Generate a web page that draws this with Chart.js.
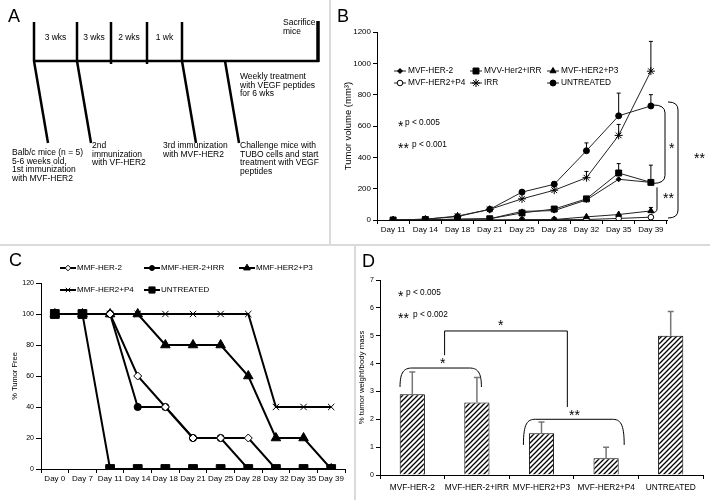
<!DOCTYPE html>
<html>
<head>
<meta charset="utf-8">
<script src="https://cdn.jsdelivr.net/npm/chart.js@4/dist/chart.umd.min.js"></script>
<style>
  body { margin: 0; background: #fff; }
  #wrap { position: relative; width: 710px; height: 500px; overflow: hidden; background: #fff; }
  .box { position: absolute; }
  .rule { position: absolute; background: #dadada; }
</style>
</head>
<body>
<div id="wrap">
  <div class="box" style="left:0;top:0;width:329px;height:244px"><canvas id="chartA" width="329" height="244"></canvas></div>
  <div class="box" style="left:331px;top:0;width:379px;height:244px"><canvas id="chartB" width="379" height="244"></canvas></div>
  <div class="box" style="left:0;top:246px;width:354px;height:254px"><canvas id="chartC" width="354" height="254"></canvas></div>
  <div class="box" style="left:357px;top:246px;width:353px;height:254px"><canvas id="chartD" width="353" height="254"></canvas></div>
  <div class="rule" style="left:329px;top:0;width:2px;height:244px"></div>
  <div class="rule" style="left:0;top:244px;width:710px;height:2px"></div>
  <div class="rule" style="left:354px;top:246px;width:2px;height:254px"></div>
</div>
<script>
// ---- Panel A: schedule (sketch units) ----
const intervalLabels = ['3 wks', '3 wks', '2 wks', '1 wk'];
const scheduleMarks = [34, 77, 111, 147, 182];
const challengeMark = 225;
const sacrificeMark = 318;

// ---- Panel B: tumor volume ----
const daysB = ['Day 11', 'Day 14', 'Day 18', 'Day 21', 'Day 25', 'Day 28', 'Day 32', 'Day 35', 'Day 39'];
const volMvf = [0, 0, 5, 8, 55, 60, 128, 260, 240];
const volMvfIrr = [0, 2, 5, 8, 45, 70, 135, 300, 240];
const volP3 = [0, 0, 0, 0, 2, 3, 20, 35, 58];
const volP4 = [0, 0, 0, 0, 0, 2, 3, 10, 18];
const volIrr = [0, 5, 25, 68, 135, 190, 270, 540, 950];
const volUntreated = [0, 5, 22, 68, 178, 228, 442, 665, 728];
const errMvfIrr = [0, 0, 0, 0, 0, 0, 15, 60, 110];
const errP3 = [0, 0, 0, 0, 0, 0, 0, 0, 22];
const errIrr = [0, 0, 0, 0, 0, 0, 40, 70, 190];
const errUntreated = [0, 0, 0, 0, 0, 18, 50, 145, 72];

// ---- Panel C: % tumor free ----
const daysC = ['Day 0', 'Day 7', 'Day 11', 'Day 14', 'Day 18', 'Day 21', 'Day 25', 'Day 28', 'Day 32', 'Day 35', 'Day 39'];
const freeMmf = [100, 100, 100, 60, 40, 20, 20, 20, 0, 0, 0];
const freeMmfIrr = [100, 100, 100, 40, 40, 20, 20, 0, 0, 0, 0];
const freeP3 = [100, 100, 100, 100, 80, 80, 80, 60, 20, 20, 0];
const freeP4 = [100, 100, 100, 100, 100, 100, 100, 100, 40, 40, 40];
const freeUntreated = [100, 100, 0, 0, 0, 0, 0, 0, 0, 0, 0];

// ---- Panel D: tumor weight ----
const groupsD = ['MVF-HER-2', 'MVF-HER-2+IRR', 'MVF-HER2+P3', 'MVF-HER2+P4', 'UNTREATED'];
const massD = [2.9, 2.6, 1.5, 0.6, 5.0];
const massErrD = [0.8, 0.9, 0.4, 0.4, 0.87];

Chart.defaults.font.family = '"Liberation Sans", Arial, sans-serif';
Chart.defaults.color = '#000';
Chart.defaults.animation = false;

const FONT = '"Liberation Sans", Arial, sans-serif';
const STAR = 14;

function marker(ctx, style, r, fill, x, y, bw) {
  ctx.save();
  ctx.fillStyle = fill;
  ctx.strokeStyle = '#000';
  ctx.lineWidth = bw;
  Chart.helpers.drawPoint(ctx, { pointStyle: style, radius: r, rotation: 0, borderWidth: bw }, x, y);
  ctx.restore();
}

function text(ctx, s, x, y, size, align) {
  ctx.font = size + 'px ' + FONT;
  ctx.fillStyle = '#000';
  ctx.textAlign = align || 'left';
  ctx.textBaseline = 'middle';
  ctx.fillText(s, x, y);
}

// asterisks sit high in the font, so push them down a bit
function stars(ctx, s, x, y, size) {
  ctx.font = size + 'px ' + FONT;
  ctx.fillStyle = '#000';
  ctx.textAlign = 'left';
  ctx.textBaseline = 'alphabetic';
  ctx.fillText(s, x, y + size * 0.58);
}

function panelLetter(ctx, s, x, y) {
  ctx.font = '18px ' + FONT;
  ctx.fillStyle = '#000';
  ctx.textAlign = 'left';
  ctx.textBaseline = 'top';
  ctx.fillText(s, x, y);
}

const hiddenLinear = (min, max, reverse) => ({ type: 'linear', min: min, max: max, reverse: !!reverse, display: false });

// ---------- A ----------
function seg(x1, y1, x2, y2, w) {
  return { data: [{ x: x1, y: y1 }, { x: x2, y: y2 }], showLine: true, borderColor: '#000', borderWidth: w || 2.5, pointRadius: 0, borderCapStyle: 'butt' };
}
const segsA = [seg(scheduleMarks[0] - 1, 61, sacrificeMark + 1, 61, 2.7)];
scheduleMarks.forEach((m, i) => segsA.push(seg(m, 22, m, (i === 2 || i === 3) ? 64 : 61)));
segsA.push(seg(sacrificeMark, 21, sacrificeMark, 62, 3.5));
[scheduleMarks[0], scheduleMarks[1], scheduleMarks[4], challengeMark].forEach(m => segsA.push(seg(m, 61, m + 14, 143)));

const textA = {
  id: 'textA',
  afterDraw(chart) {
    const ctx = chart.ctx, xs = chart.scales.x, ys = chart.scales.y;
    const X = v => xs.getPixelForValue(v), Y = v => ys.getPixelForValue(v);
    panelLetter(ctx, 'A', 8, 8);
    intervalLabels.forEach((s, i) => text(ctx, s, X((scheduleMarks[i] + scheduleMarks[i + 1]) / 2), Y(38), 8.5, 'center'));
    const blocks = [
      [283, 23, ['Sacrifice', 'mice']],
      [240, 77, ['Weekly treatment', 'with VEGF peptides', 'for 6 wks']],
      [12, 153, ['Balb/c mice (n = 5)', '5-6 weeks old,', '1st immunization', 'with MVF-HER2']],
      [92, 146, ['2nd', 'immunization', 'with VF-HER2']],
      [163, 146, ['3rd immunization', 'with MVF-HER2']],
      [240, 146, ['Challenge mice with', 'TUBO cells and start', 'treatment with VEGF', 'peptides']]
    ];
    blocks.forEach(b => b[2].forEach((s, k) => text(ctx, s, X(b[0]), Y(b[1] + k * 8.5), 8.5)));
  }
};

new Chart(document.getElementById('chartA'), {
  type: 'scatter',
  data: { datasets: segsA },
  options: {
    responsive: false,
    layout: { padding: 0 },
    plugins: { legend: { display: false }, tooltip: { enabled: false } },
    scales: { x: hiddenLinear(0, 329), y: hiddenLinear(0, 244, true) }
  },
  plugins: [textA]
});

// ---------- B ----------
const lineB = (label, data, style, r, fill) => ({
  label: label, data: data, borderColor: '#222', borderWidth: 1, tension: 0,
  pointStyle: style, pointRadius: r, pointBackgroundColor: fill, pointBorderColor: '#000', pointBorderWidth: 1
});
const dsB = [
  lineB('MVF-HER-2', volMvf, 'rectRot', 2.5, '#000'),
  lineB('MVV-Her2+IRR', volMvfIrr, 'rect', 4.2, '#000'),
  lineB('MVF-HER2+P3', volP3, 'triangle', 3.5, '#000'),
  lineB('MVF-HER2+P4', volP4, 'circle', 2.8, '#fff'),
  lineB('IRR', volIrr, 'star', 4, '#000'),
  lineB('UNTREATED', volUntreated, 'circle', 3, '#000')
];
const errB = [null, errMvfIrr, errP3, null, errIrr, errUntreated];

function rightBrace(ctx, x, y1, y2, reach, r) {
  ctx.beginPath();
  ctx.moveTo(x - reach, y1);
  ctx.quadraticCurveTo(x, y1, x, y1 + r);
  ctx.lineTo(x, y2 - r);
  ctx.quadraticCurveTo(x, y2, x - reach, y2);
  ctx.stroke();
}

const annotB = {
  id: 'annotB',
  afterDatasetsDraw(chart) {
    const ctx = chart.ctx, ys = chart.scales.y;
    ctx.save();
    ctx.strokeStyle = '#000';
    ctx.lineWidth = 1;
    chart.data.datasets.forEach((ds, i) => {
      const err = errB[i];
      if (!err) return;
      chart.getDatasetMeta(i).data.forEach((pt, j) => {
        if (!err[j]) return;
        const top = ys.getPixelForValue(ds.data[j] + err[j]);
        ctx.beginPath();
        ctx.moveTo(pt.x, pt.y);
        ctx.lineTo(pt.x, top);
        ctx.moveTo(pt.x - 2, top);
        ctx.lineTo(pt.x + 2, top);
        ctx.stroke();
      });
    });
    ctx.restore();
  },
  afterDraw(chart) {
    const ctx = chart.ctx, ys = chart.scales.y, a = chart.chartArea;
    panelLetter(ctx, 'B', 6, 8);
    // legend
    const cols = [63, 139, 216], rows = [71, 83];
    dsB.forEach((ds, i) => {
      const x = cols[i % 3], y = rows[Math.floor(i / 3)];
      ctx.save();
      ctx.strokeStyle = '#222'; ctx.lineWidth = 1;
      ctx.beginPath(); ctx.moveTo(x, y); ctx.lineTo(x + 12, y); ctx.stroke();
      ctx.restore();
      marker(ctx, ds.pointStyle, ds.pointRadius, ds.pointBackgroundColor, x + 6, y, 1);
      text(ctx, ds.label, x + 14, y, 8.3);
    });
    // significance notes
    stars(ctx, '*', 67, 123, STAR);
    text(ctx, 'p < 0.005', 74, 123, 8.3);
    stars(ctx, '**', 67, 145, STAR);
    text(ctx, 'p < 0.001', 81, 145, 8.3);
    // brackets at the last day
    const last = daysB.length - 1;
    const yU = ys.getPixelForValue(volUntreated[last]);
    const yM = ys.getPixelForValue(volMvfIrr[last]);
    const yP3 = ys.getPixelForValue(volP3[last]);
    const y0 = ys.getPixelForValue(0);
    ctx.save();
    ctx.strokeStyle = '#000';
    ctx.lineWidth = 1;
    rightBrace(ctx, a.right - 2, yU - 1, yM + 1, 12, 8);
    ctx.beginPath();
    ctx.moveTo(a.right - 10, yM + 5);
    ctx.lineTo(a.right - 10, yP3 - 2);
    ctx.quadraticCurveTo(a.right - 10, yP3 + 2, a.right - 16, yP3 + 2);
    ctx.stroke();
    rightBrace(ctx, a.right + 11, yU - 4, y0 - 2, 10, 8);
    ctx.restore();
    stars(ctx, '*', a.right + 2, 145, STAR);
    stars(ctx, '**', a.right - 4, 195, STAR);
    stars(ctx, '**', a.right + 27, 155, STAR);
  }
};

new Chart(document.getElementById('chartB'), {
  type: 'line',
  data: { labels: daysB, datasets: dsB },
  options: {
    responsive: false,
    layout: { padding: { left: 6, top: 32, right: 43, bottom: 0 } },
    plugins: { legend: { display: false }, tooltip: { enabled: false } },
    scales: {
      x: {
        offset: true,
        grid: { offset: true, drawOnChartArea: false, tickLength: 4, color: '#000' },
        border: { color: '#000' },
        ticks: { font: { size: 8 }, autoSkip: false, maxRotation: 0, padding: 1 },
        afterFit: s => { s.height = 24; }
      },
      y: {
        min: 0, max: 1200,
        grid: { drawOnChartArea: false, tickLength: 4, color: '#000' },
        border: { color: '#000' },
        ticks: { stepSize: 200, font: { size: 8 }, padding: 2, callback: v => String(v) },
        title: { display: true, text: 'Tumor volume (mm³)', font: { size: 9.5 }, padding: { top: 6, bottom: 0 } },
        afterFit: s => { s.width = 40; }
      }
    }
  },
  plugins: [annotB]
});

// ---------- C ----------
const lineC = (label, data, style, r, fill, order) => ({
  label: label, data: data, borderColor: '#000', borderWidth: 2, tension: 0, order: order,
  pointStyle: style, pointRadius: r, pointBackgroundColor: fill, pointBorderColor: '#000', pointBorderWidth: 1
});
const dsC = [
  lineC('MMF-HER-2', freeMmf, 'rectRot', 4, '#fff', 1),
  lineC('MMF-HER-2+IRR', freeMmfIrr, 'circle', 3.6, '#000', 2),
  lineC('MMF-HER2+P3', freeP3, 'triangle', 5.5, '#000', 3),
  lineC('MMF-HER2+P4', freeP4, 'crossRot', 4.5, '#000', 4),
  lineC('UNTREATED', freeUntreated, 'rect', 6.2, '#000', 0)
];

const annotC = {
  id: 'annotC',
  afterDraw(chart) {
    const ctx = chart.ctx;
    panelLetter(ctx, 'C', 9, 6);
    const slots = [[60, 22], [144, 22], [239, 22], [60, 44], [144, 44]];
    dsC.forEach((ds, i) => {
      const x = slots[i][0], y = slots[i][1];
      ctx.save();
      ctx.strokeStyle = '#000'; ctx.lineWidth = 2;
      ctx.beginPath(); ctx.moveTo(x, y); ctx.lineTo(x + 16, y); ctx.stroke();
      ctx.restore();
      marker(ctx, ds.pointStyle, ds.pointRadius * 0.7, ds.pointBackgroundColor, x + 8, y, 1);
      text(ctx, ds.label, x + 17, y, 8);
    });
  }
};

new Chart(document.getElementById('chartC'), {
  type: 'line',
  data: { labels: daysC, datasets: dsC },
  options: {
    responsive: false,
    layout: { padding: { left: 4, top: 37, right: 9, bottom: 11 } },
    plugins: { legend: { display: false }, tooltip: { enabled: false } },
    scales: {
      x: {
        offset: true,
        grid: { offset: true, drawOnChartArea: false, tickLength: 4, color: '#000' },
        border: { color: '#000' },
        ticks: { font: { size: 8 }, autoSkip: false, maxRotation: 0, padding: 1 },
        afterFit: s => { s.height = 20; }
      },
      y: {
        min: 0, max: 120,
        grid: { drawOnChartArea: false, tickLength: 5, color: '#000' },
        border: { color: '#000' },
        ticks: { stepSize: 20, font: { size: 7 }, padding: 2 },
        title: { display: true, text: '% Tumor Free', font: { size: 7.5 }, padding: { top: 6, bottom: 0 } },
        afterFit: s => { s.width = 37; }
      }
    }
  },
  plugins: [annotC]
});

// ---------- D ----------
const ctxD = document.getElementById('chartD').getContext('2d');
function hatchPattern(ctx) {
  const t = document.createElement('canvas');
  t.width = 5; t.height = 5;
  const g = t.getContext('2d');
  g.fillStyle = '#fff';
  g.fillRect(0, 0, 5, 5);
  g.strokeStyle = '#000';
  g.lineWidth = 1.3;
  g.beginPath();
  g.moveTo(-1, 6); g.lineTo(6, -1);
  g.moveTo(-1, 1); g.lineTo(1, -1);
  g.moveTo(4, 6); g.lineTo(6, 4);
  g.stroke();
  return ctx.createPattern(t, 'repeat');
}

function cupBracket(ctx, xs, ys, i1, i2, topV, endV) {
  const x1 = xs.getPixelForValue(i1), x2 = xs.getPixelForValue(i2);
  const yt = ys.getPixelForValue(topV), ye = ys.getPixelForValue(endV);
  ctx.beginPath();
  ctx.moveTo(x1, ye);
  ctx.bezierCurveTo(x1, yt + 4, x1 + 4, yt, x1 + 12, yt);
  ctx.lineTo(x2 - 12, yt);
  ctx.bezierCurveTo(x2 - 4, yt, x2, yt + 4, x2, ye);
  ctx.stroke();
}

const annotD = {
  id: 'annotD',
  afterDatasetsDraw(chart) {
    const ctx = chart.ctx, ys = chart.scales.y;
    ctx.save();
    ctx.strokeStyle = '#777';
    ctx.lineWidth = 1.5;
    chart.getDatasetMeta(0).data.forEach((bar, j) => {
      const top = ys.getPixelForValue(massD[j] + massErrD[j]);
      ctx.beginPath();
      ctx.moveTo(bar.x, bar.y);
      ctx.lineTo(bar.x, top);
      ctx.moveTo(bar.x - 3, top);
      ctx.lineTo(bar.x + 3, top);
      ctx.stroke();
    });
    ctx.restore();
  },
  afterDraw(chart) {
    const ctx = chart.ctx, xs = chart.scales.x, ys = chart.scales.y;
    panelLetter(ctx, 'D', 5, 7);
    stars(ctx, '*', 41, 47, STAR);
    text(ctx, 'p < 0.005', 49, 47, 8.3);
    stars(ctx, '**', 41, 69, STAR);
    text(ctx, 'p < 0.002', 56, 69, 8.3);
    ctx.save();
    ctx.strokeStyle = '#000';
    ctx.lineWidth = 1;
    // square bracket between the two pairs
    const bl = xs.getPixelForValue(0.5), br = xs.getPixelForValue(2.4);
    ctx.beginPath();
    ctx.moveTo(bl, ys.getPixelForValue(4.3));
    ctx.lineTo(bl, ys.getPixelForValue(5.17));
    ctx.lineTo(br, ys.getPixelForValue(5.17));
    ctx.lineTo(br, ys.getPixelForValue(2.44));
    ctx.stroke();
    cupBracket(ctx, xs, ys, -0.19, 1.07, 3.84, 3.16);
    cupBracket(ctx, xs, ys, 1.72, 3.28, 2.0, 1.08);
    ctx.restore();
    stars(ctx, '*', 141, 76, STAR);
    stars(ctx, '*', 83, 114, STAR);
    stars(ctx, '**', 212, 166, STAR);
  }
};

new Chart(ctxD, {
  type: 'bar',
  data: {
    labels: groupsD,
    datasets: [{
      data: massD, backgroundColor: hatchPattern(ctxD), borderColor: '#000', borderWidth: 1,
      barPercentage: 0.39, categoryPercentage: 1
    }]
  },
  options: {
    responsive: false,
    layout: { padding: { left: 0, top: 34, right: 7, bottom: 0 } },
    plugins: { legend: { display: false }, tooltip: { enabled: false } },
    scales: {
      x: {
        grid: { offset: true, drawOnChartArea: false, tickLength: 4, color: '#000' },
        border: { color: '#000' },
        ticks: { font: { size: 8.3 }, autoSkip: false, maxRotation: 0, padding: 4 },
        afterFit: s => { s.height = 25; }
      },
      y: {
        min: 0, max: 7,
        grid: { drawOnChartArea: false, tickLength: 4, color: '#000' },
        border: { color: '#000' },
        ticks: { stepSize: 1, font: { size: 7 }, padding: 2 },
        title: { display: true, text: '% tumor weight/body mass', font: { size: 7.8 }, padding: { top: 0, bottom: 1 } },
        afterFit: s => { s.width = 23; }
      }
    }
  },
  plugins: [annotD]
});
</script>
</body>
</html>
